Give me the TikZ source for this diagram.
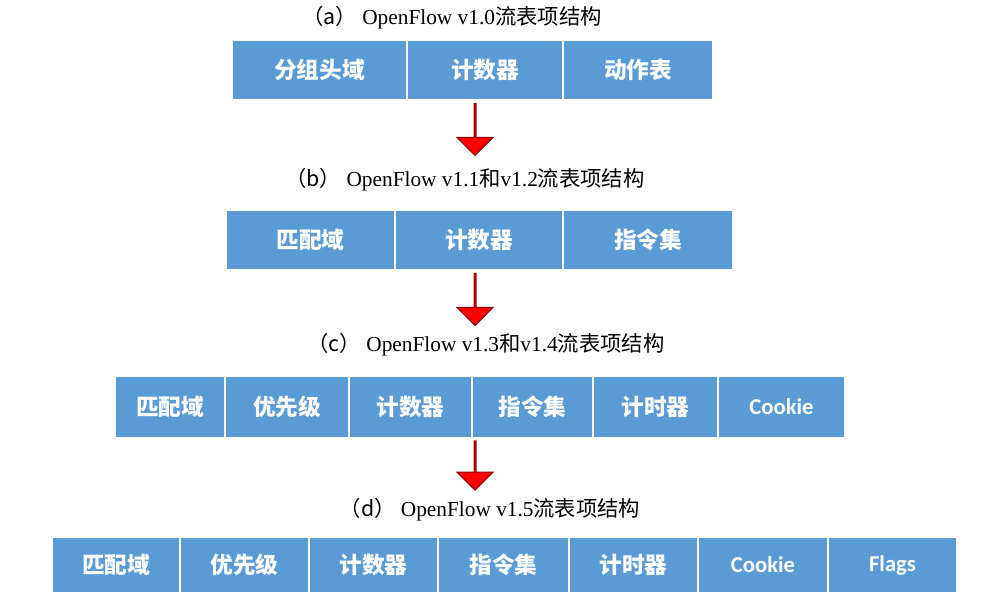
\documentclass[tikz,border=0pt]{standalone}
\usepackage{fontspec}
\setmainfont{Liberation Serif}
\newfontfamily\cjk{Noto Sans CJK SC}
\newfontfamily\carl{Carlito}
\usetikzlibrary{positioning, shapes.arrows}
\definecolor{cellblue}{HTML}{5B9BD5}
\tikzset{
  cell/.style={draw=white, line width=1.2pt, fill=cellblue, text=white,
    font=\fontsize{17}{20}\selectfont\bfseries, inner sep=0pt},
  title/.style={font=\fontsize{16}{19}\selectfont, text=black},
  down/.style={single arrow, draw=red!55!black, fill=red, line width=0.8pt,
    rotate=-90, minimum width=27pt, single arrow head extend=7pt,
    single arrow head indent=0pt, inner sep=0pt}
}
\begin{document}
\begin{tikzpicture}[x=0.75pt,y=-0.75pt]
  \useasboundingbox (0,0) rectangle (987,609);

  % (a)
  \node[title] (ta) at (452,18) {{\cjk （a）} OpenFlow v1.0{\cjk 流表项结构}};
  \foreach \l/\r/\t [count=\i] in {232/407/{\cjk 分组头域}, 407/563/{\cjk 计数器}, 563/713/{\cjk 动作表}}
    \node[cell, minimum width={(\r-\l)*0.75pt}, minimum height=44pt] (a\i) at ({(\l+\r)/2},70) {\t};

  \node[down, minimum height=39pt] (ab) at (475,129) {};

  % (b)
  \node[title] (tb) at (465,180) {{\cjk （b）} OpenFlow v1.1{\cjk 和}v1.2{\cjk 流表项结构}};
  \foreach \l/\r/\t [count=\i] in {226/395/{\cjk 匹配域}, 395/563/{\cjk 计数器}, 563/733/{\cjk 指令集}}
    \node[cell, minimum width={(\r-\l)*0.75pt}, minimum height=44pt] (b\i) at ({(\l+\r)/2},240) {\t};

  \node[down, minimum height=39pt] (bc) at (475,299) {};

  % (c)
  \node[title] (tc) at (486,345) {{\cjk （c）} OpenFlow v1.3{\cjk 和}v1.4{\cjk 流表项结构}};
  \foreach \l/\r/\t [count=\i] in {115/225/{\cjk 匹配域}, 225/349/{\cjk 优先级}, 349/472/{\cjk 计数器},
      472/593/{\cjk 指令集}, 593/718/{\cjk 计时器}, 718/845/{\carl Cookie}}
    \node[cell, minimum width={(\r-\l)*0.75pt}, minimum height=46pt] (c\i) at ({(\l+\r)/2},407) {\t};

  \node[down, minimum height=37pt] (cd) at (475,465) {};

  % (d)
  \node[title] (td) at (490,510) {{\cjk （d）} OpenFlow v1.5{\cjk 流表项结构}};
  \foreach \l/\r/\t [count=\i] in {52/180/{\cjk 匹配域}, 180/309/{\cjk 优先级}, 309/438/{\cjk 计数器},
      438/569/{\cjk 指令集}, 569/698/{\cjk 计时器}, 698/828/{\carl Cookie}, 828/957/{\carl Flags}}
    \node[cell, minimum width={(\r-\l)*0.75pt}, minimum height=41pt] (d\i) at ({(\l+\r)/2},565) {\t};
\end{tikzpicture}
\end{document}
